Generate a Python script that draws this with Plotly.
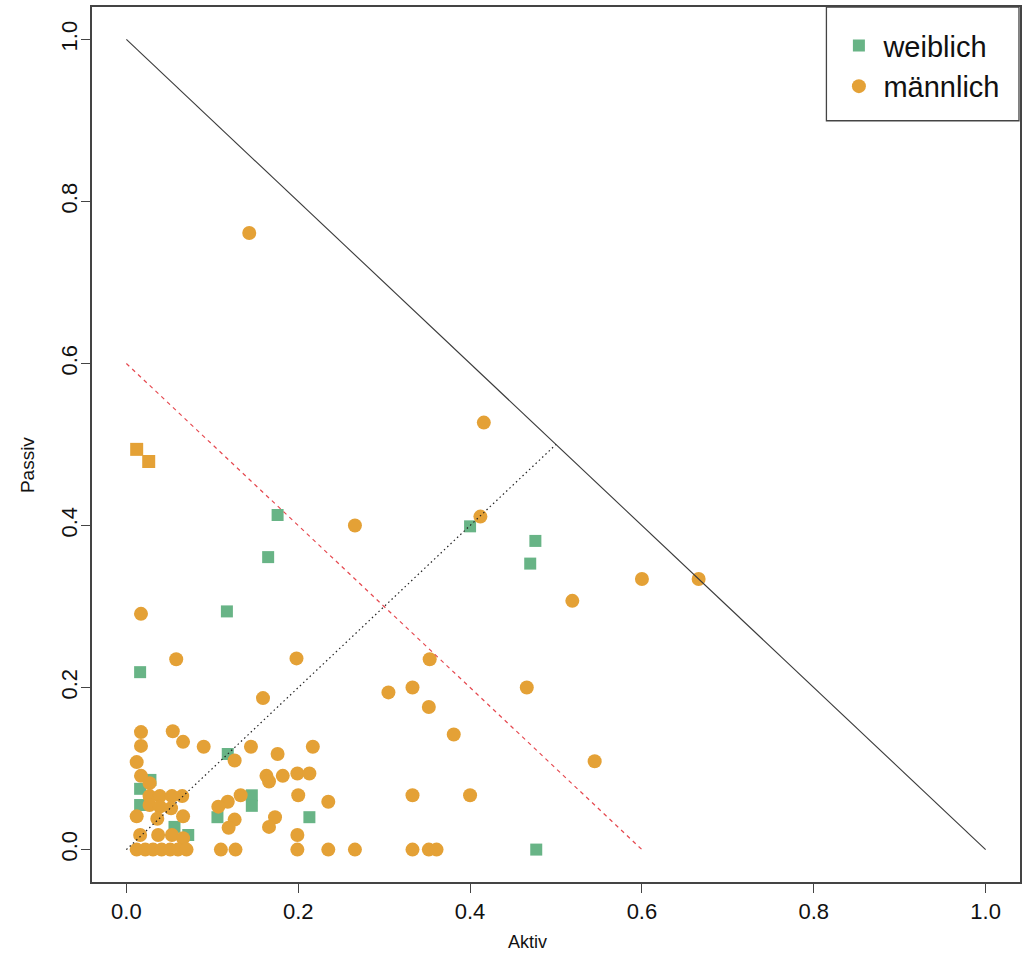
import plotly.graph_objects as go

# Anteil aktiver / passiver Beteiligung je Person
female_x = [0.016, 0.176, 0.165, 0.117, 0.400, 0.476, 0.470, 0.477, 0.118, 0.146,
            0.146, 0.106, 0.213, 0.072, 0.056, 0.016, 0.016, 0.028]
female_y = [0.219, 0.413, 0.361, 0.294, 0.399, 0.381, 0.353, 0.000, 0.118, 0.067,
            0.054, 0.040, 0.040, 0.018, 0.028, 0.075, 0.055, 0.086]

male_x = [0.143, 0.416, 0.266, 0.412, 0.600, 0.666, 0.519, 0.017, 0.058, 0.198,
          0.353, 0.159, 0.305, 0.333, 0.352, 0.381, 0.466, 0.545, 0.333, 0.400,
          0.266, 0.333, 0.352, 0.361,
          0.090, 0.126, 0.145, 0.176, 0.217, 0.163, 0.166, 0.182, 0.199, 0.213,
          0.133, 0.118, 0.107, 0.200, 0.235, 0.126, 0.119, 0.173, 0.166, 0.199,
          0.110, 0.127, 0.199, 0.235,
          0.017, 0.017, 0.054, 0.066, 0.012, 0.017, 0.027, 0.027, 0.039, 0.053,
          0.065, 0.027, 0.039, 0.052, 0.012, 0.036, 0.066, 0.016, 0.037, 0.053,
          0.066, 0.012, 0.022, 0.031, 0.041, 0.051, 0.060, 0.070]
male_y = [0.761, 0.527, 0.400, 0.411, 0.334, 0.334, 0.307, 0.291, 0.235, 0.236,
          0.235, 0.187, 0.194, 0.200, 0.176, 0.142, 0.200, 0.109, 0.067, 0.067,
          0.000, 0.000, 0.000, 0.000,
          0.127, 0.110, 0.127, 0.118, 0.127, 0.091, 0.084, 0.091, 0.094, 0.094,
          0.067, 0.059, 0.053, 0.067, 0.059, 0.037, 0.027, 0.040, 0.028, 0.018,
          0.000, 0.000, 0.000, 0.000,
          0.145, 0.128, 0.146, 0.133, 0.108, 0.091, 0.082, 0.066, 0.066, 0.066,
          0.066, 0.055, 0.053, 0.051, 0.041, 0.038, 0.041, 0.018, 0.018, 0.018,
          0.014, 0.000, 0.000, 0.000, 0.000, 0.000, 0.000, 0.000]

# zwei Punkte, die doppelt belegt sind
overlap_x = [0.012, 0.026]
overlap_y = [0.494, 0.479]

# Referenzlinien
total_x, total_y = [0.0, 1.0], [1.0, 0.0]
limit_x, limit_y = [0.0, 0.6], [0.6, 0.0]
diag_x, diag_y = [0.0, 0.5], [0.0, 0.5]

GREEN = "#68B486"
ORANGE = "#E4A136"
FONT = "Liberation Sans"

fig = go.Figure()
fig.add_trace(go.Scatter(x=female_x, y=female_y, mode="markers", name="weiblich",
                         marker=dict(symbol="square", size=12, color=GREEN)))
fig.add_trace(go.Scatter(x=male_x, y=male_y, mode="markers", name="männlich",
                         marker=dict(symbol="circle", size=14, color=ORANGE)))
fig.add_trace(go.Scatter(x=overlap_x, y=overlap_y, mode="markers", showlegend=False,
                         marker=dict(symbol="square", size=13, color=ORANGE)))

fig.add_trace(go.Scatter(x=total_x, y=total_y, mode="lines", showlegend=False,
                         line=dict(color="#3a3a3a", width=1.1)))
fig.add_trace(go.Scatter(x=limit_x, y=limit_y, mode="lines", showlegend=False,
                         line=dict(color="#E5484F", width=1.2, dash="4px,4px")))
fig.add_trace(go.Scatter(x=diag_x, y=diag_y, mode="lines", showlegend=False,
                         line=dict(color="#222222", width=1.2, dash="1.5px,3px")))

axis_common = dict(
    range=[-0.04, 1.04],
    tickvals=[0, 0.2, 0.4, 0.6, 0.8, 1.0],
    ticktext=["0.0", "0.2", "0.4", "0.6", "0.8", "1.0"],
    ticks="outside", ticklen=9, tickwidth=1.3, tickcolor="#444",
    showline=True, linecolor="#444", linewidth=1.5, mirror=True,
    showgrid=False, zeroline=False,
    tickfont=dict(family=FONT, size=22, color="#111"),
)

fig.update_layout(
    width=1027, height=963,
    margin=dict(l=92, r=5, t=5, b=81),
    paper_bgcolor="white", plot_bgcolor="white",
    xaxis=dict(**axis_common),
    yaxis=dict(**axis_common, tickangle=-90, ticklabelstandoff=-5),
    legend=dict(x=0.800, y=0.985, xanchor="left", yanchor="top",
                bgcolor="rgba(0,0,0,0)", borderwidth=0, itemwidth=39,
                font=dict(family=FONT, size=29, color="#111")),
    showlegend=True,
)

# Achsentitel
fig.add_annotation(text="Aktiv", xref="paper", yref="paper", x=(528 - 92) / 930, y=-60 / 877,
                   xanchor="center", yanchor="middle", showarrow=False,
                   font=dict(family=FONT, size=18, color="#111"))
fig.add_annotation(text="Passiv", xref="paper", yref="paper", x=-64 / 930, y=(882 - 464) / 877,
                   xanchor="center", yanchor="middle", showarrow=False, textangle=-90,
                   font=dict(family=FONT, size=19, color="#111"))

# Rahmen der Legende
fig.add_shape(type="rect", xref="paper", yref="paper",
              x0=0.7914, x1=0.9989, y0=0.870, y1=1.0,
              line=dict(color="#444", width=1.3), fillcolor="rgba(0,0,0,0)")

fig.write_html("out.html")
